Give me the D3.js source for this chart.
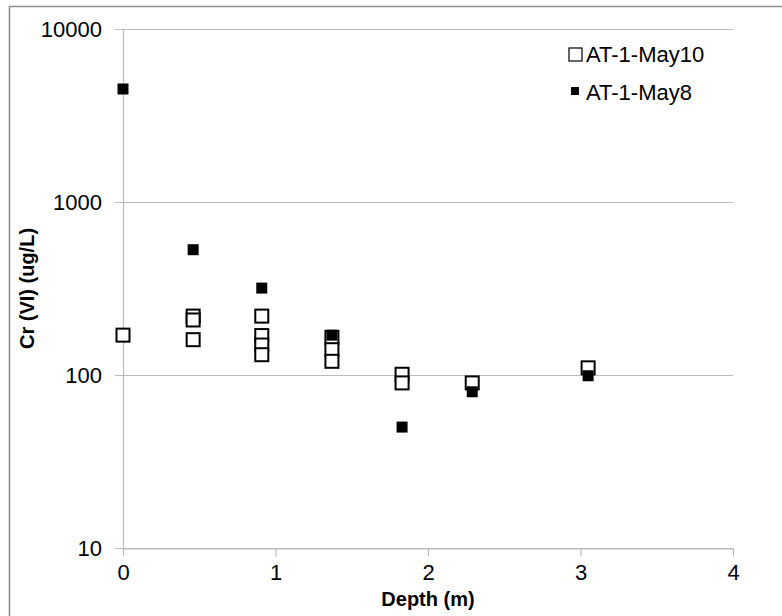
<!DOCTYPE html>
<html>
<head>
<meta charset="utf-8">
<script src="https://cdn.jsdelivr.net/npm/d3@7"></script>
<style>
  body { margin: 0; background: #fff; }
  svg { display: block; }
</style>
</head>
<body>
<main></main>
<script>
// data
const depthMay10 = [0, 0.46, 0.46, 0.46, 0.91, 0.91, 0.91, 0.91, 1.37, 1.37, 1.37, 1.83, 1.83, 2.29, 3.05];
const crMay10 = [170, 219, 208, 160, 219, 169, 149, 131, 165, 140, 120, 101, 90, 90, 110];
const depthMay8 = [0, 0.46, 0.91, 1.37, 1.83, 2.29, 3.05];
const crMay8 = [4500, 530, 318, 170, 50, 80, 99];
const xTicks = [0, 1, 2, 3, 4];
const yTicks = [10, 100, 1000, 10000];
const seriesNames = ['AT-1-May10', 'AT-1-May8'];

const WIDTH = 782, HEIGHT = 616;
const FONT = 'Liberation Sans, Arial, sans-serif';

const svg = d3.select('main')
  .append('svg')
  .attr('width', WIDTH)
  .attr('height', HEIGHT);

// outer chart border (right/bottom edges fall outside the picture)
svg.append('rect')
  .attr('x', 9.5).attr('y', 6.5)
  .attr('width', WIDTH).attr('height', HEIGHT)
  .attr('fill', 'none')
  .attr('stroke', '#8c8c8c')
  .attr('stroke-width', 1.5);

const x = d3.scaleLinear().domain([0, 4]).range([123, 733]);
const y = d3.scaleLog().domain([10, 10000]).range([548, 29]);

// gridlines
svg.append('g')
  .selectAll('line')
  .data(yTicks)
  .enter()
  .append('line')
  .attr('x1', x(0) - 8).attr('x2', x(4))
  .attr('y1', d => Math.round(y(d)) + 0.5)
  .attr('y2', d => Math.round(y(d)) + 0.5)
  .attr('stroke', '#bbbbbb')
  .attr('stroke-width', 1.2);

// y axis line
svg.append('line')
  .attr('x1', x(0) + 0.5).attr('x2', x(0) + 0.5)
  .attr('y1', y(10000)).attr('y2', y(10))
  .attr('stroke', '#bbbbbb')
  .attr('stroke-width', 1.2);

// x axis (ticks pointing down)
const xAxis = d3.axisBottom(x)
  .tickValues(xTicks)
  .tickSize(8)
  .tickSizeOuter(0)
  .tickPadding(8)
  .tickFormat(d3.format('d'));

const gx = svg.append('g')
  .attr('transform', `translate(0,${Math.round(y(10)) + 0.5})`)
  .call(xAxis);
gx.select('.domain').attr('stroke', '#bbbbbb').attr('stroke-width', 1.2);
gx.selectAll('.tick line').attr('stroke', '#bbbbbb').attr('stroke-width', 1.2);
gx.selectAll('.tick text')
  .attr('fill', '#000')
  .attr('font-family', FONT)
  .attr('font-size', 22);

// y tick labels
const yAxis = d3.axisLeft(y)
  .tickValues(yTicks)
  .tickSize(0)
  .tickPadding(21)
  .tickFormat(d3.format('d'));

const gy = svg.append('g')
  .attr('transform', `translate(${x(0)},0)`)
  .call(yAxis);
gy.select('.domain').remove();
gy.selectAll('.tick text')
  .attr('fill', '#000')
  .attr('font-family', FONT)
  .attr('font-size', 22);

// axis titles
svg.append('text')
  .attr('x', (x(0) + x(4)) / 2)
  .attr('y', 606)
  .attr('text-anchor', 'middle')
  .attr('font-family', FONT)
  .attr('font-weight', 'bold')
  .attr('font-size', 20)
  .attr('fill', '#000')
  .text('Depth (m)');

svg.append('text')
  .attr('transform', `translate(34,${(y(10) + y(10000)) / 2}) rotate(-90)`)
  .attr('text-anchor', 'middle')
  .attr('font-family', FONT)
  .attr('font-weight', 'bold')
  .attr('font-size', 20)
  .attr('fill', '#000')
  .text('Cr (VI) (ug/L)');

// May10: open squares, white fill, drawn first
const may10 = depthMay10.map((d, i) => ({ depth: d, cr: crMay10[i] }));
svg.append('g')
  .selectAll('rect')
  .data(may10)
  .enter()
  .append('rect')
  .attr('x', d => x(d.depth) - 6.5)
  .attr('y', d => y(d.cr) - 6.5)
  .attr('width', 13)
  .attr('height', 13)
  .attr('fill', '#fff')
  .attr('stroke', '#000')
  .attr('stroke-width', 2);

// May8: filled squares on top
const may8 = depthMay8.map((d, i) => ({ depth: d, cr: crMay8[i] }));
svg.append('g')
  .selectAll('rect')
  .data(may8)
  .enter()
  .append('rect')
  .attr('x', d => x(d.depth) - 5.5)
  .attr('y', d => y(d.cr) - 5.5)
  .attr('width', 11)
  .attr('height', 11)
  .attr('fill', '#000');

// legend
const legend = svg.append('g');
legend.append('rect')
  .attr('x', 569).attr('y', 48)
  .attr('width', 13).attr('height', 13)
  .attr('fill', '#fff')
  .attr('stroke', '#000')
  .attr('stroke-width', 1.2);
legend.append('rect')
  .attr('x', 571).attr('y', 87)
  .attr('width', 8).attr('height', 8)
  .attr('fill', '#000');
legend.selectAll('text')
  .data(seriesNames)
  .enter()
  .append('text')
  .attr('x', 586)
  .attr('y', (d, i) => 62 + i * 38)
  .attr('font-family', FONT)
  .attr('font-size', 22)
  .attr('fill', '#000')
  .text(d => d);
</script>
</body>
</html>
